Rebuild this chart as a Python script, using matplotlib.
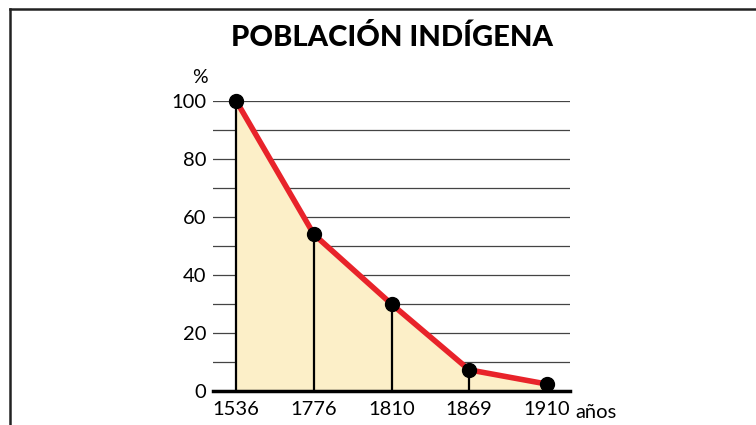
import matplotlib.pyplot as plt
from matplotlib.lines import Line2D

plt.rcParams['font.family'] = ['Lato', 'DejaVu Sans']

years = ['1536', '1776', '1810', '1869', '1910']
poblacion = [100, 54, 30, 7.3, 2.4]
y_ticks = [0, 20, 40, 60, 80, 100]

fig = plt.figure(figsize=(7.56, 4.25), dpi=100)
ax = fig.add_axes([213 / 756, 34 / 425, 357 / 756, 290 / 425])

x = list(range(len(years)))

# gridlines every 10
for g in range(10, 101, 10):
    ax.axhline(g, color='#444444', lw=0.9, zorder=1)

ax.fill_between(x, poblacion, 0, color='#FCEFC8', zorder=2)
ax.vlines(x, 0, poblacion, color='black', lw=1.6, zorder=3)
ax.plot(x, poblacion, color='#E8232A', lw=4, zorder=4, solid_capstyle='round',
        clip_on=False)
ax.plot(x, poblacion, 'o', color='black', ms=10, zorder=5, clip_on=False)
ax.axhline(0, color='black', lw=2.5, zorder=6, clip_on=False)

ax.set_xlim(-0.3, 4.3)
ax.set_ylim(0, 100)
ax.set_xticks(x)
ax.set_xticklabels(years, fontsize=14.5)
ax.set_yticks(y_ticks)
ax.set_yticklabels([str(v) for v in y_ticks], fontsize=14.5)
ax.tick_params(axis='x', length=0, pad=7)
ax.tick_params(axis='y', length=0, pad=5)
for s in ax.spines.values():
    s.set_visible(False)

ax.text(-0.3 - 0.17, 108, '%', fontsize=14, ha='center', va='center')
ax.text(4.37, -7.5, 'años', fontsize=14.5, ha='left', va='center', clip_on=False)

fig.text(392 / 756, 1 - 38 / 425, 'POBLACIÓN INDÍGENA', fontsize=21,
         fontweight='black', ha='center', va='center')

# frame lines
fig.add_artist(Line2D([10 / 756, 1], [1 - 9 / 425, 1 - 9 / 425],
                      transform=fig.transFigure, color='#222222', lw=1.8))
fig.add_artist(Line2D([10 / 756, 10 / 756], [0, 1 - 9 / 425],
                      transform=fig.transFigure, color='#222222', lw=1.8))

fig.savefig('out.png', dpi=100)
